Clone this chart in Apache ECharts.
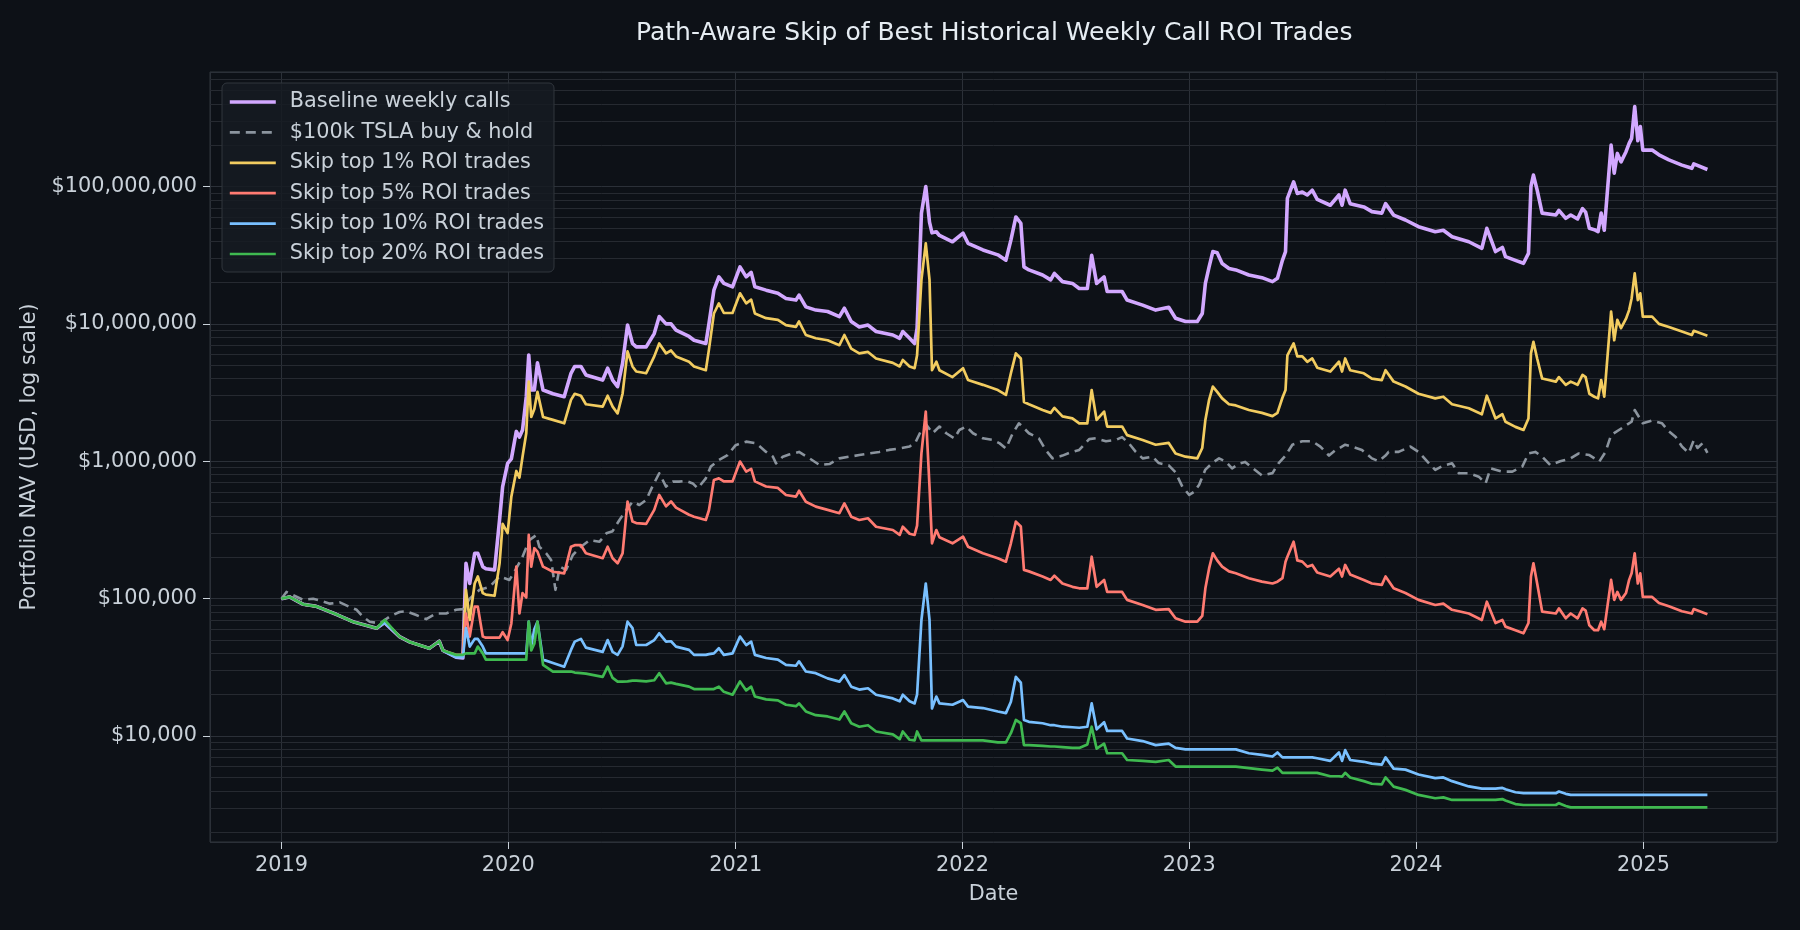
<!DOCTYPE html>
<html>
<head>
<meta charset="utf-8">
<title>Path-Aware Skip of Best Historical Weekly Call ROI Trades</title>
<script src="https://cdn.jsdelivr.net/npm/echarts@6.0.0/dist/echarts.min.js"></script>
<style>
  html, body { margin: 0; padding: 0; background: #0d1117; }
  #main { width: 1800px; height: 930px; }
</style>
</head>
<body>
<div id="main"></div>
<script>
// sample dates shared by the five weekly-call strategies
const dates = [
  '2019-01-01','2019-01-14','2019-02-05','2019-02-26','2019-03-30','2019-04-26','2019-06-03','2019-06-16','2019-07-10','2019-07-26',
  '2019-08-27','2019-09-12','2019-09-18','2019-10-09','2019-10-20','2019-10-25','2019-10-31','2019-11-08','2019-11-13','2019-11-21',
  '2019-11-26','2019-12-10','2019-12-18','2019-12-23','2019-12-31','2020-01-06','2020-01-14','2020-01-19','2020-01-24','2020-01-30',
  '2020-02-03','2020-02-07','2020-02-12','2020-02-17','2020-02-26','2020-03-13','2020-03-31','2020-04-11','2020-04-17','2020-04-27',
  '2020-05-05','2020-06-01','2020-06-09','2020-06-17','2020-06-25','2020-07-03','2020-07-11','2020-07-19','2020-07-25','2020-08-10',
  '2020-08-23','2020-08-31','2020-09-11','2020-09-19','2020-09-27','2020-10-18','2020-10-26','2020-11-14','2020-11-19','2020-11-27',
  '2020-12-05','2020-12-13','2020-12-27','2021-01-08','2021-01-18','2021-01-26','2021-02-01','2021-02-19','2021-03-10','2021-03-23',
  '2021-04-08','2021-04-13','2021-04-24','2021-05-10','2021-05-29','2021-06-17','2021-06-25','2021-07-06','2021-07-19','2021-08-02',
  '2021-08-15','2021-09-11','2021-09-22','2021-09-27','2021-10-08','2021-10-16','2021-10-20','2021-10-27','2021-11-03','2021-11-09',
  '2021-11-13','2021-11-20','2021-11-25','2021-12-16','2022-01-02','2022-01-10','2022-02-03','2022-02-27','2022-03-12','2022-03-20',
  '2022-03-28','2022-04-05','2022-04-10','2022-04-18','2022-05-10','2022-05-23','2022-05-29','2022-06-11','2022-06-27','2022-07-08',
  '2022-07-21','2022-07-28','2022-08-05','2022-08-17','2022-08-22','2022-09-15','2022-09-23','2022-10-18','2022-11-08','2022-11-29',
  '2022-12-10','2022-12-26','2023-01-14','2023-01-22','2023-01-27','2023-02-02','2023-02-08','2023-02-15','2023-02-23','2023-03-06',
  '2023-03-17','2023-04-07','2023-04-28','2023-05-15','2023-05-23','2023-05-31','2023-06-05','2023-06-08','2023-06-18','2023-06-24',
  '2023-07-02','2023-07-10','2023-07-18','2023-07-26','2023-08-16','2023-08-30','2023-09-04','2023-09-09','2023-09-17','2023-10-09',
  '2023-10-22','2023-11-07','2023-11-13','2023-11-26','2023-12-15','2024-01-05','2024-02-01','2024-02-14','2024-02-28','2024-03-26',
  '2024-04-16','2024-04-24','2024-05-08','2024-05-19','2024-05-24','2024-06-09','2024-06-22','2024-06-30','2024-07-04','2024-07-08',
  '2024-07-14','2024-07-22','2024-08-13','2024-08-18','2024-08-29','2024-09-06','2024-09-17','2024-09-25','2024-09-30','2024-10-06',
  '2024-10-14','2024-10-20','2024-10-25','2024-10-30','2024-11-10','2024-11-15','2024-11-20','2024-11-26','2024-12-04','2024-12-09',
  '2024-12-13','2024-12-18','2024-12-23','2024-12-27','2024-12-31','2025-01-15','2025-01-26','2025-02-11','2025-03-04','2025-03-20',
  '2025-03-23','2025-04-14'
];

// portfolio NAV in USD
const baselineNav = [
  100000,103000,91000,88000,77000,68000,61000,67000,53000,48500,
  43500,49000,42000,37500,37000,181000,129000,214000,214000,171000,
  165000,162000,374000,655000,966000,1040000,1650000,1500000,1690000,2950000,
  5940000,3300000,3300000,5200000,3300000,3100000,2950000,4370000,4900000,4900000,
  4250000,3900000,4760000,3900000,3490000,5160000,9800000,7200000,6800000,6800000,
  8500000,11300000,10000000,10000000,9000000,8100000,7600000,7200000,10000000,17600000,
  22000000,19700000,18600000,26000000,22000000,23700000,18600000,17600000,16700000,15300000,
  14900000,16200000,13300000,12600000,12300000,11300000,13000000,10400000,9500000,9800000,
  8800000,8300000,7850000,8800000,7850000,7200000,9300000,63800000,100000000,55000000,
  46000000,46800000,44000000,39600000,45700000,38600000,34500000,31800000,29100000,40700000,
  60000000,54000000,26000000,24700000,22700000,20900000,23300000,20300000,19700000,18100000,
  18100000,31600000,19700000,22000000,17200000,17200000,14900000,13700000,12600000,13200000,
  11000000,10400000,10400000,11900000,19700000,26000000,33600000,33000000,27500000,25300000,
  24700000,22700000,21700000,20300000,21500000,29000000,33600000,82000000,108000000,89000000,
  91000000,86700000,94000000,80700000,73000000,86700000,73000000,94000000,75000000,71000000,
  65600000,64000000,75000000,61900000,57000000,51000000,46900000,48000000,43100000,39600000,
  35500000,49600000,33600000,36000000,30900000,29000000,27600000,32600000,100000000,121000000,
  94000000,64000000,62000000,67000000,58600000,62000000,58000000,69000000,65000000,49600000,
  48500000,46900000,64000000,48000000,200000000,125000000,174000000,151000000,179000000,206000000,
  224000000,381000000,215000000,273000000,184000000,184000000,170000000,156000000,143000000,135600000,
  146000000,133000000
];

const skip1Nav = [
  100000,103000,91000,88000,77000,68000,61000,68000,53000,48500,
  43500,49000,42000,38500,38500,116000,70000,129000,145000,110000,
  107000,105000,180000,350000,300000,553000,850000,760000,1080000,1600000,
  3800000,2100000,2400000,3200000,2100000,2000000,1890000,2800000,3100000,3000000,
  2600000,2500000,3000000,2500000,2230000,3100000,6300000,4900000,4500000,4370000,
  5800000,7200000,6100000,6400000,5800000,5300000,4900000,4600000,6500000,11900000,
  14100000,12000000,12000000,16700000,14100000,15000000,11900000,11000000,10700000,9800000,
  9500000,10400000,8300000,7860000,7600000,7000000,8300000,6600000,6100000,6250000,
  5600000,5200000,4900000,5460000,4900000,4760000,5900000,20900000,38500000,21000000,
  4600000,5300000,4600000,4100000,4760000,3900000,3600000,3300000,3040000,4370000,
  6100000,5600000,2700000,2600000,2360000,2250000,2450000,2120000,2050000,1890000,
  1890000,3300000,2000000,2300000,1790000,1790000,1550000,1430000,1320000,1360000,
  1140000,1080000,1050000,1250000,2000000,2800000,3500000,3200000,2870000,2600000,
  2550000,2360000,2250000,2130000,2250000,2900000,3300000,5900000,7200000,5800000,
  5800000,5300000,5600000,4800000,4500000,5300000,4500000,5600000,4600000,4370000,
  4000000,3900000,4600000,3800000,3500000,3100000,2870000,2950000,2600000,2430000,
  2200000,3000000,2050000,2200000,1940000,1780000,1690000,2050000,6100000,7400000,
  5600000,4000000,3800000,4100000,3600000,3800000,3600000,4250000,4100000,3100000,
  2950000,2870000,3900000,2950000,12300000,7600000,10700000,9300000,10900000,12600000,
  15300000,23300000,14900000,16700000,11300000,11300000,10000000,9500000,8800000,8300000,
  8900000,8200000
];

const skip5Nav = [
  100000,103000,91000,88000,77000,68000,61000,68000,53000,48500,
  43500,49000,42000,39000,39000,78000,53000,87500,87500,53000,
  52000,52000,52000,57000,50000,66000,171000,78000,110000,102000,
  291000,171000,233000,220000,171000,157000,153000,239000,245000,245000,
  214000,197000,239000,197000,181000,214000,508000,364000,355000,350000,
  443000,569000,470000,510000,460000,408000,395000,374000,440000,731000,
  751000,714000,714000,995000,841000,880000,714000,655000,640000,568000,
  553000,610000,508000,468000,443000,419000,494000,395000,374000,385000,
  334000,316000,291000,334000,297000,291000,340000,1140000,2300000,655000,
  253000,316000,280000,253000,283000,239000,214000,197000,186000,253000,
  364000,335000,162000,158000,145000,137000,147000,129000,122000,119000,
  119000,202000,122000,137000,112000,112000,98000,90000,83000,84000,
  72000,68000,68000,75000,119000,166000,214000,190000,171000,158000,
  153000,141000,133000,129000,133000,141000,186000,202000,260000,190000,
  186000,171000,176000,155000,145000,165000,145000,176000,150000,137000,
  129000,126000,145000,119000,110000,98000,90000,92000,83000,78000,
  70000,95000,66500,70000,62600,59000,56000,66500,145000,181000,
  129000,80600,78000,85000,72000,78000,72000,85000,82000,64000,
  59000,59000,68000,60000,137000,98000,112000,98000,110000,137000,
  153000,214000,129000,153000,103000,103000,93000,88000,81000,78000,
  84000,77000
];

const skip10Nav = [
  100000,103000,91000,88000,77000,68000,61000,67000,53000,48500,
  43500,49000,42000,37500,37500,61000,44800,51000,51000,44800,
  40000,40000,40000,40000,40000,40000,40000,40000,40000,40000,
  68000,45000,60000,68000,36000,34000,32000,42400,48700,51000,
  44000,41000,50000,41000,39000,45000,68000,61000,46000,46000,
  50000,56000,48700,49000,44800,42400,39000,39000,39500,40000,
  43600,39000,40000,53000,46000,48700,39000,37000,36000,33000,
  32500,35000,29500,28700,26300,24900,27800,22900,21800,22300,
  20000,18800,17900,20000,17900,17300,20000,70000,129000,70000,
  15900,19400,17300,16900,18300,16400,16000,15100,14700,17800,
  27000,24500,13100,12700,12400,12000,12000,11700,11600,11500,
  11700,17300,11200,12600,10900,10900,9600,9200,8600,8800,
  8200,8000,8000,8000,8000,8000,8000,8000,8000,8000,
  8000,7500,7300,7100,7600,7000,7000,7000,7000,7000,
  7000,7000,7000,6900,6600,7600,6600,7900,6700,6500,
  6300,6200,7000,5800,5700,5250,4940,5000,4700,4300,
  4150,4150,4150,4200,4100,3900,3840,3840,3840,3840,
  3840,3840,3840,3950,3800,3730,3730,3730,3730,3730,
  3730,3730,3730,3730,3730,3730,3730,3730,3730,3730,
  3730,3730,3730,3730,3730,3730,3730,3730,3730,3730,
  3730,3730
];

const skip20Nav = [
  100000,103000,91000,88000,77000,68000,61000,70000,53000,48500,
  43500,49000,42000,39000,39000,40000,40000,40000,44800,40000,
  36000,36000,36000,36000,36000,36000,36000,36000,36000,36000,
  68000,42000,47000,68000,33000,29500,29500,29500,29000,28700,
  28500,27000,32000,26500,24900,24900,25000,25300,25300,25000,
  25500,28700,24200,24500,24000,22900,22000,22000,22000,22000,
  22900,21000,20000,25000,21500,22900,19400,18500,18200,16900,
  16500,17300,15100,14200,13900,13200,15100,12400,11700,12000,
  10800,10300,9500,10800,9400,9300,10800,9300,9300,9300,
  9300,9300,9300,9300,9300,9300,9300,9000,9000,10500,
  13100,12400,8600,8600,8500,8400,8400,8300,8200,8200,
  8700,11700,8100,8800,7500,7500,6700,6600,6500,6700,
  6000,6000,6000,6000,6000,6000,6000,6000,6000,6000,
  6000,5850,5700,5600,5900,5400,5400,5400,5400,5400,
  5400,5400,5400,5400,5100,5100,5070,5400,5000,4700,
  4500,4450,5000,4290,4060,3730,3530,3580,3430,3430,
  3430,3430,3430,3480,3400,3200,3150,3150,3150,3150,
  3150,3150,3150,3250,3100,3030,3030,3030,3030,3030,
  3030,3030,3030,3030,3030,3030,3030,3030,3030,3030,
  3030,3030,3030,3030,3030,3030,3030,3030,3030,3030,
  3030,3030
];

// $100k TSLA buy & hold
const tslaDates = [
  '2019-01-01','2019-01-09','2019-01-20','2019-02-05','2019-02-21','2019-03-04','2019-03-20','2019-04-05','2019-04-21','2019-05-02',
  '2019-05-12','2019-05-23','2019-06-08','2019-06-24','2019-07-10','2019-07-21','2019-08-06','2019-08-22','2019-09-07','2019-09-23',
  '2019-10-09','2019-10-20','2019-10-31','2019-11-16','2019-12-02','2019-12-18','2020-01-03','2020-01-14','2020-01-24','2020-02-04',
  '2020-02-15','2020-02-20','2020-03-02','2020-03-10','2020-03-17','2020-03-24','2020-04-03','2020-04-14','2020-04-27','2020-05-11',
  '2020-05-27','2020-06-07','2020-06-17','2020-06-28','2020-07-09','2020-07-19','2020-07-30','2020-08-10','2020-08-20','2020-08-31',
  '2020-09-11','2020-09-22','2020-10-02','2020-10-13','2020-10-24','2020-11-01','2020-11-14','2020-11-22','2020-12-05','2020-12-19',
  '2021-01-01','2021-01-18','2021-02-03','2021-02-19','2021-03-02','2021-03-07','2021-03-18','2021-03-28','2021-04-13','2021-04-30',
  '2021-05-16','2021-06-01','2021-06-17','2021-07-03','2021-07-19','2021-08-04','2021-08-20','2021-09-05','2021-09-22','2021-10-08',
  '2021-10-18','2021-10-27','2021-11-04','2021-11-14','2021-11-25','2021-12-06','2021-12-19','2021-12-27','2022-01-07','2022-01-18',
  '2022-02-03','2022-02-19','2022-03-02','2022-03-12','2022-03-23','2022-04-02','2022-04-18','2022-05-04','2022-05-15','2022-05-26',
  '2022-06-11','2022-06-22','2022-07-08','2022-07-24','2022-08-04','2022-08-20','2022-09-05','2022-09-15','2022-09-26','2022-10-07',
  '2022-10-18','2022-11-03','2022-11-13','2022-11-29','2022-12-10','2022-12-21','2023-01-01','2023-01-09','2023-01-17','2023-01-27',
  '2023-02-07','2023-02-18','2023-02-28','2023-03-11','2023-03-22','2023-04-01','2023-04-12','2023-04-28','2023-05-15','2023-05-25',
  '2023-06-05','2023-06-16','2023-07-02','2023-07-18','2023-07-31','2023-08-14','2023-08-24','2023-09-09','2023-09-20','2023-10-06',
  '2023-10-22','2023-11-02','2023-11-13','2023-11-18','2023-12-04','2023-12-23','2024-01-05','2024-01-19','2024-02-01','2024-02-14',
  '2024-02-28','2024-03-10','2024-03-26','2024-04-11','2024-04-22','2024-04-30','2024-05-19','2024-06-04','2024-06-20','2024-06-30',
  '2024-07-11','2024-07-22','2024-08-04','2024-08-20','2024-09-06','2024-09-19','2024-10-06','2024-10-22','2024-11-01','2024-11-10',
  '2024-11-27','2024-12-13','2024-12-18','2024-12-31','2025-01-15','2025-01-31','2025-02-11','2025-02-22','2025-03-04','2025-03-15',
  '2025-03-23','2025-03-29','2025-04-06','2025-04-14'
];

const tslaNav = [
  100000,112000,106000,98000,100000,97000,92000,94000,87000,83000,
  74000,68000,66000,74000,80000,81000,76000,71000,78000,78000,
  83000,84000,100000,116000,122000,145000,137000,166000,202000,267000,
  290000,239000,214000,191000,116000,171000,162000,208000,239000,267000,
  260000,299000,310000,374000,443000,508000,481000,523000,655000,818000,
  655000,711000,711000,720000,690000,635000,751000,916000,1020000,1110000,
  1310000,1390000,1350000,1170000,1080000,966000,1080000,1120000,1170000,1050000,
  940000,955000,1050000,1080000,1110000,1140000,1170000,1210000,1240000,1280000,
  1390000,1690000,1840000,1600000,1790000,1600000,1470000,1690000,1790000,1600000,
  1470000,1430000,1350000,1240000,1600000,1890000,1600000,1470000,1210000,1050000,
  1100000,1150000,1210000,1450000,1470000,1400000,1430000,1500000,1350000,1170000,
  1050000,1080000,970000,935000,830000,653000,569000,600000,676000,870000,
  970000,1050000,1000000,889000,960000,990000,900000,790000,820000,970000,
  1100000,1320000,1400000,1400000,1280000,1100000,1200000,1320000,1280000,1210000,
  1050000,1000000,1100000,1170000,1170000,1280000,1170000,998000,865000,930000,
  966000,818000,818000,773000,690000,890000,841000,841000,915000,1140000,
  1170000,1080000,940000,1000000,1050000,1140000,1110000,995000,1170000,1550000,
  1740000,1940000,2360000,1890000,1980000,1890000,1650000,1500000,1280000,1150000,
  1420000,1250000,1350000,1150000
];

// ---------- styling ----------
const bg = '#0d1117';
const gridColor = '#2b3038';
const textColor = '#c9d1d9';
const font = 'DejaVu Sans';

// minor log gridlines (2..9 x 10^k) inside the visible range
const yMin = 1695, yMax = 6.81e8;
const minorLevels = [];
for (let p = 3; p <= 8; p++) {
  for (let m = 2; m <= 9; m++) {
    const v = m * Math.pow(10, p);
    if (v > yMin && v < yMax) minorLevels.push({ yAxis: v });
  }
}

function money(v) {
  return '$' + String(Math.round(v)).replace(/\B(?=(\d{3})+(?!\d))/g, ',');
}

function pairs(xs, ys) {
  return xs.map((d, i) => [d, ys[i]]);
}

function lineSeries(name, xs, ys, color, width, dash) {
  return {
    name: name,
    type: 'line',
    data: pairs(xs, ys),
    showSymbol: false,
    symbol: 'none',
    z: 3,
    lineStyle: { color: color, width: width, type: dash || 'solid', join: 'round' },
    itemStyle: { color: color },
    emphasis: { disabled: true }
  };
}

const chart = echarts.init(document.getElementById('main'));

const option = {
  backgroundColor: bg,
  animation: false,
  textStyle: { fontFamily: font },
  title: {
    text: 'Path-Aware Skip of Best Historical Weekly Call ROI Trades',
    left: 636,
    top: 21,
    padding: 0,
    textStyle: { color: '#e6edf3', fontSize: 25, fontWeight: 'normal', fontFamily: font }
  },
  grid: {
    left: 210, right: 23, top: 72, bottom: 88,
    show: true, borderColor: '#30363d', borderWidth: 1,
    containLabel: false
  },
  legend: {
    left: 222,
    top: 83,
    z: 10,
    orient: 'vertical',
    padding: [7, 10, 6, 6],
    itemWidth: 46,
    itemHeight: 14,
    itemGap: 6.4,
    // hide the marker dot, keep only the line sample at the series width
    itemStyle: { opacity: 0 },
    lineStyle: { width: 'inherit' },
    backgroundColor: 'rgba(22,27,34,0.85)',
    borderColor: '#30363d',
    borderWidth: 1,
    borderRadius: 5,
    textStyle: { color: textColor, fontSize: 20.8, fontFamily: font, lineHeight: 24, padding: [0, 0, 0, 9] },
    data: ['Baseline weekly calls', '$100k TSLA buy & hold', 'Skip top 1% ROI trades',
           'Skip top 5% ROI trades', 'Skip top 10% ROI trades', 'Skip top 20% ROI trades']
  },
  xAxis: {
    type: 'time',
    min: '2018-09-08',
    max: '2025-08-04',
    splitNumber: 7,
    name: 'Date',
    nameLocation: 'middle',
    nameGap: 42,
    nameTextStyle: { color: textColor, fontSize: 20.8, fontFamily: font },
    axisLine: { show: false },
    axisTick: { show: true, length: 7, lineStyle: { color: textColor, width: 1 } },
    axisLabel: {
      color: textColor, fontSize: 20.8, fontFamily: font, margin: 13,
      showMinLabel: false, showMaxLabel: false,
      formatter: function (v) { return String(new Date(v).getFullYear()); }
    },
    splitLine: { show: true, lineStyle: { color: gridColor, width: 1 } }
  },
  yAxis: {
    type: 'log',
    logBase: 10,
    min: yMin,
    max: yMax,
    name: 'Portfolio NAV (USD, log scale)',
    nameLocation: 'middle',
    nameGap: 170,
    nameTextStyle: { color: textColor, fontSize: 20.8, fontFamily: font },
    axisLine: { show: false },
    axisTick: { show: true, length: 7, lineStyle: { color: textColor, width: 1 } },
    axisLabel: {
      color: textColor, fontSize: 20.8, fontFamily: font, margin: 13,
      showMinLabel: false, showMaxLabel: false,
      formatter: money
    },
    splitLine: { show: true, lineStyle: { color: gridColor, width: 1 } }
  },
  series: [
    {
      // minor gridlines only, kept under the data lines and the legend
      name: 'minor-grid',
      type: 'line',
      data: [],
      silent: true,
      z: 1,
      markLine: {
        z: 1,
        silent: true,
        animation: false,
        symbol: ['none', 'none'],
        label: { show: false },
        lineStyle: { color: '#262a31', width: 1, type: 'solid' },
        emphasis: { disabled: true },
        data: minorLevels
      }
    },
    lineSeries('Baseline weekly calls', dates, baselineNav, '#d2a8ff', 3.6),
    lineSeries('$100k TSLA buy & hold', tslaDates, tslaNav, '#8b949e', 2.6, [10, 6]),
    lineSeries('Skip top 1% ROI trades', dates, skip1Nav, '#f2cc60', 2.7),
    lineSeries('Skip top 5% ROI trades', dates, skip5Nav, '#ff7b72', 2.7),
    lineSeries('Skip top 10% ROI trades', dates, skip10Nav, '#79c0ff', 2.7),
    lineSeries('Skip top 20% ROI trades', dates, skip20Nav, '#3fb950', 2.7)
  ]
};

chart.setOption(option);
</script>
</body>
</html>
